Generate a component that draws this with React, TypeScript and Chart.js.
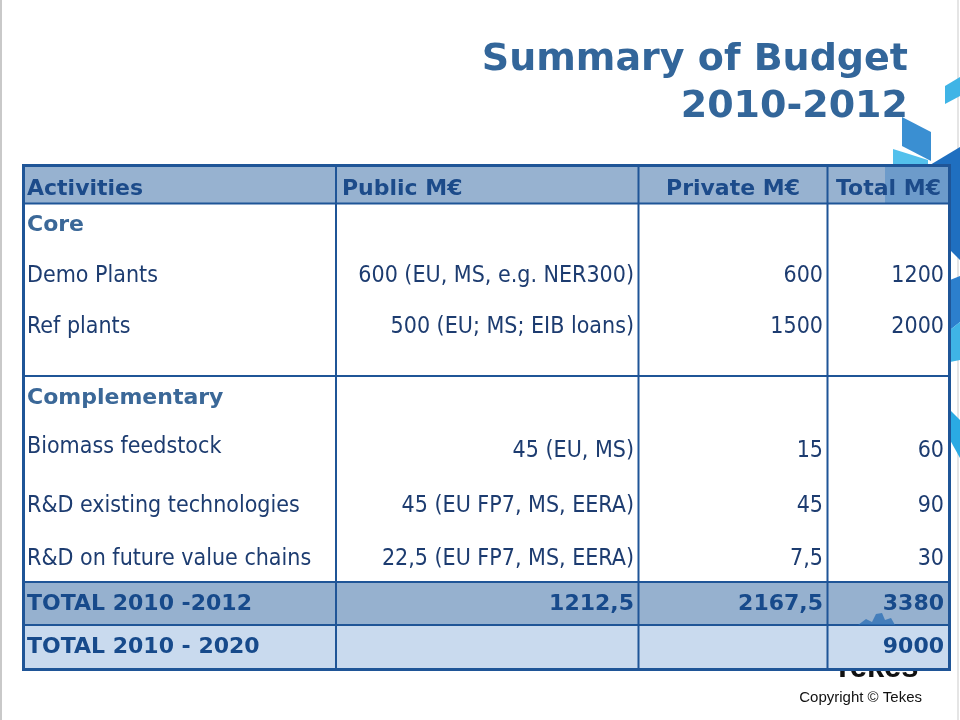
import React, { useEffect, useRef } from "react";
import { Chart, registerables } from "chart.js";

Chart.register(...registerables);

// ---- data ----
const titleLines = ["Summary of Budget", "2010-2012"];
const headers = ["Activities", "Public M€", "Private M€", "Total M€"];
const coreLabel = "Core";
const coreActivities = ["Demo Plants", "Ref plants"];
const corePublic = ["600 (EU, MS, e.g. NER300)", "500 (EU; MS; EIB loans)"];
const corePrivate = [600, 1500];
const coreTotal = [1200, 2000];
const compLabel = "Complementary";
const compActivities = ["Biomass feedstock", "R&D existing technologies", "R&D on future value chains"];
const compPublic = ["45 (EU, MS)", "45 (EU FP7, MS, EERA)", "22,5 (EU FP7, MS, EERA)"];
const compPrivate = [15, 45, 7.5];
const compTotal = [60, 90, 30];
const totalLabels = ["TOTAL 2010 -2012", "TOTAL 2010 - 2020"];
const totalPublic: (number | null)[] = [1212.5, null];
const totalPrivate: (number | null)[] = [2167.5, null];
const totalTotal = [3380, 9000];
const copyrightText = "Copyright © Tekes";
const logoText = "Tekes";

// ---- layout (table grid in the chart's coordinate space) ----
const COLS = [23.5, 336, 638.5, 827.5, 949.5];
const H = { top: 165.5, head: 203.5, sec1: 376, sec2: 582, tot1: 625, bottom: 669.5 };
const HEAD_BASE = 195;
const CORE_BASES = { label: 231, rows: [282, 333] };
const COMP_BASES = { label: 404, rows: [453, 512, 565], values: [457, 512, 565] };
const TOTAL_BASES = [610, 653];
const PAD_L = 27;
const RIGHT_EDGES = [634, 823, 944];

const fmt = (v: number | null) => (v == null ? "" : String(v).replace(".", ","));

const REG = "23px 'DejaVu Sans Condensed', 'DejaVu Sans', sans-serif";
const BOLD = "bold 22px 'DejaVu Sans', sans-serif";

const C = {
  border: "#1f5597",
  headFill: "#97b2d0",
  tot1Fill: "#96b1cf",
  tot2Fill: "#c9daee",
  headText: "#1c4b8a",
  secText: "#3b6898",
  body: "#1d3c70",
  totText: "#174a8b",
  title: "#33669a",
};

const tablePlugin = {
  id: "budgetTable",
  beforeDraw(chart: any) {
    const { ctx } = chart;
    const xs = chart.scales.x;
    const ys = chart.scales.y;
    const X = (v: number) => xs.getPixelForValue(v);
    const Y = (v: number) => ys.getPixelForValue(v);

    const text = (s: string, x: number, y: number, align: CanvasTextAlign, font: string, color: string) => {
      ctx.font = font;
      ctx.fillStyle = color;
      ctx.textAlign = align;
      ctx.textBaseline = "alphabetic";
      ctx.fillText(s, X(x), Y(y));
    };
    const poly = (pts: number[][], color: string) => {
      ctx.beginPath();
      pts.forEach((p, i) => (i ? ctx.lineTo(X(p[0]), Y(p[1])) : ctx.moveTo(X(p[0]), Y(p[1]))));
      ctx.closePath();
      ctx.fillStyle = color;
      ctx.fill();
    };
    const rect = (x0: number, y0: number, x1: number, y1: number, color: string) => {
      ctx.fillStyle = color;
      ctx.fillRect(X(x0), Y(y0), X(x1) - X(x0), Y(y1) - Y(y0));
    };
    const line = (x0: number, y0: number, x1: number, y1: number, w: number, color: string) => {
      ctx.beginPath();
      ctx.moveTo(X(x0), Y(y0));
      ctx.lineTo(X(x1), Y(y1));
      ctx.lineWidth = w;
      ctx.strokeStyle = color;
      ctx.stroke();
    };

    ctx.save();
    ctx.fillStyle = "#ffffff";
    ctx.fillRect(0, 0, chart.width, chart.height);

    // slide edges
    line(1, 0, 1, 720, 2, "#c9c9c9");
    line(958, 0, 958, 720, 1.5, "#dcdcdc");

    // decoration on right edge
    poly([[945, 86], [960, 77], [960, 96], [945, 104]], "#3fb4e6");
    poly([[902, 117], [931, 132], [931, 161], [902, 146]], "#3a8fd2");
    poly([[893, 149], [928, 160], [928, 168], [893, 168]], "#53c0ec");
    poly([[930, 165], [960, 147], [960, 260], [930, 230]], "#1f6fc0");
    poly([[950, 280], [960, 276], [960, 322], [950, 330]], "#2c7fcd");
    poly([[950, 330], [960, 322], [960, 360], [950, 362]], "#3fb4e6");
    poly([[950, 410], [960, 420], [960, 458], [950, 440]], "#2aaae3");

    // logo text behind table
    text(logoText, 833, 677, "left", "bold 31px 'Liberation Sans', Arial, sans-serif", "#111111");

    // title
    text(titleLines[0], 908, 70, "right", "bold 38px 'DejaVu Sans', sans-serif", C.title);
    text(titleLines[1], 908, 117, "right", "bold 38px 'DejaVu Sans', sans-serif", C.title);

    // fills
    rect(COLS[0], H.head, COLS[4], H.sec2, "#ffffff");
    rect(COLS[0], H.top, COLS[4], H.head, C.headFill);
    rect(COLS[0], H.sec2, COLS[4], H.tot1, C.tot1Fill);
    rect(COLS[0], H.tot1, COLS[4], H.bottom, C.tot2Fill);
    // decoration overlay on header corner
    poly([[885, H.top], [COLS[4], H.top], [COLS[4], H.head], [885, H.head]], "rgba(31,111,192,0.35)");

    // grid lines
    [H.head, H.sec1, H.sec2, H.tot1].forEach((yv) => line(COLS[0], yv, COLS[4], yv, 2, C.border));
    COLS.slice(1, 4).forEach((xv) => line(xv, H.top, xv, H.bottom, 2, C.border));
    ctx.lineWidth = 3;
    ctx.strokeStyle = C.border;
    ctx.strokeRect(X(COLS[0]), Y(H.top), X(COLS[4]) - X(COLS[0]), Y(H.bottom) - Y(H.top));

    // header
    text(headers[0], PAD_L, HEAD_BASE, "left", BOLD, C.headText);
    text(headers[1], COLS[1] + 6, HEAD_BASE, "left", BOLD, C.headText);
    text(headers[2], (COLS[2] + COLS[3]) / 2, HEAD_BASE, "center", BOLD, C.headText);
    text(headers[3], (COLS[3] + COLS[4]) / 2, HEAD_BASE, "center", BOLD, C.headText);

    // core section
    text(coreLabel, PAD_L, CORE_BASES.label, "left", BOLD, C.secText);
    coreActivities.forEach((a, i) => {
      const b = CORE_BASES.rows[i];
      text(a, PAD_L, b, "left", REG, C.body);
      text(corePublic[i], RIGHT_EDGES[0], b, "right", REG, C.body);
      text(fmt(corePrivate[i]), RIGHT_EDGES[1], b, "right", REG, C.body);
      text(fmt(coreTotal[i]), RIGHT_EDGES[2], b, "right", REG, C.body);
    });

    // complementary section
    text(compLabel, PAD_L, COMP_BASES.label, "left", BOLD, C.secText);
    compActivities.forEach((a, i) => {
      const bl = COMP_BASES.rows[i];
      const bv = COMP_BASES.values[i];
      text(a, PAD_L, bl, "left", REG, C.body);
      text(compPublic[i], RIGHT_EDGES[0], bv, "right", REG, C.body);
      text(fmt(compPrivate[i]), RIGHT_EDGES[1], bv, "right", REG, C.body);
      text(fmt(compTotal[i]), RIGHT_EDGES[2], bv, "right", REG, C.body);
    });

    // totals
    totalLabels.forEach((t, i) => {
      const b = TOTAL_BASES[i];
      text(t, PAD_L, b, "left", BOLD, C.totText);
      text(fmt(totalPublic[i]), RIGHT_EDGES[0], b, "right", BOLD, C.totText);
      text(fmt(totalPrivate[i]), RIGHT_EDGES[1], b, "right", BOLD, C.totText);
      text(fmt(totalTotal[i]), RIGHT_EDGES[2], b, "right", BOLD, C.totText);
    });

    // logo spikes peeking into total cell
    poly([[858, 625], [866, 619], [872, 622], [876, 614], [882, 613], [885, 620], [891, 618], [895, 625]], "rgba(40,110,180,0.75)");

    // copyright
    text(copyrightText, 922, 702, "right", "15px 'Liberation Sans', Arial, sans-serif", "#111111");

    ctx.restore();
  },
};

export default function App() {
  const ref = useRef<HTMLCanvasElement | null>(null);
  useEffect(() => {
    if (!ref.current) return;
    const chart = new Chart(ref.current, {
      type: "scatter",
      data: { datasets: [] },
      options: {
        animation: false,
        responsive: false,
        devicePixelRatio: 1,
        layout: { padding: 0 },
        plugins: { legend: { display: false }, tooltip: { enabled: false } },
        events: [],
        scales: {
          x: { type: "linear", min: 0, max: 960, display: false },
          y: { type: "linear", min: 0, max: 720, reverse: true, display: false },
        },
      },
      plugins: [tablePlugin],
    });
    return () => chart.destroy();
  }, []);
  return (
    <div style={{ position: "fixed", left: 0, top: 0, width: 960, height: 720, background: "#fff" }}>
      <canvas ref={ref} width={960} height={720} style={{ display: "block", width: 960, height: 720 }} />
    </div>
  );
}
